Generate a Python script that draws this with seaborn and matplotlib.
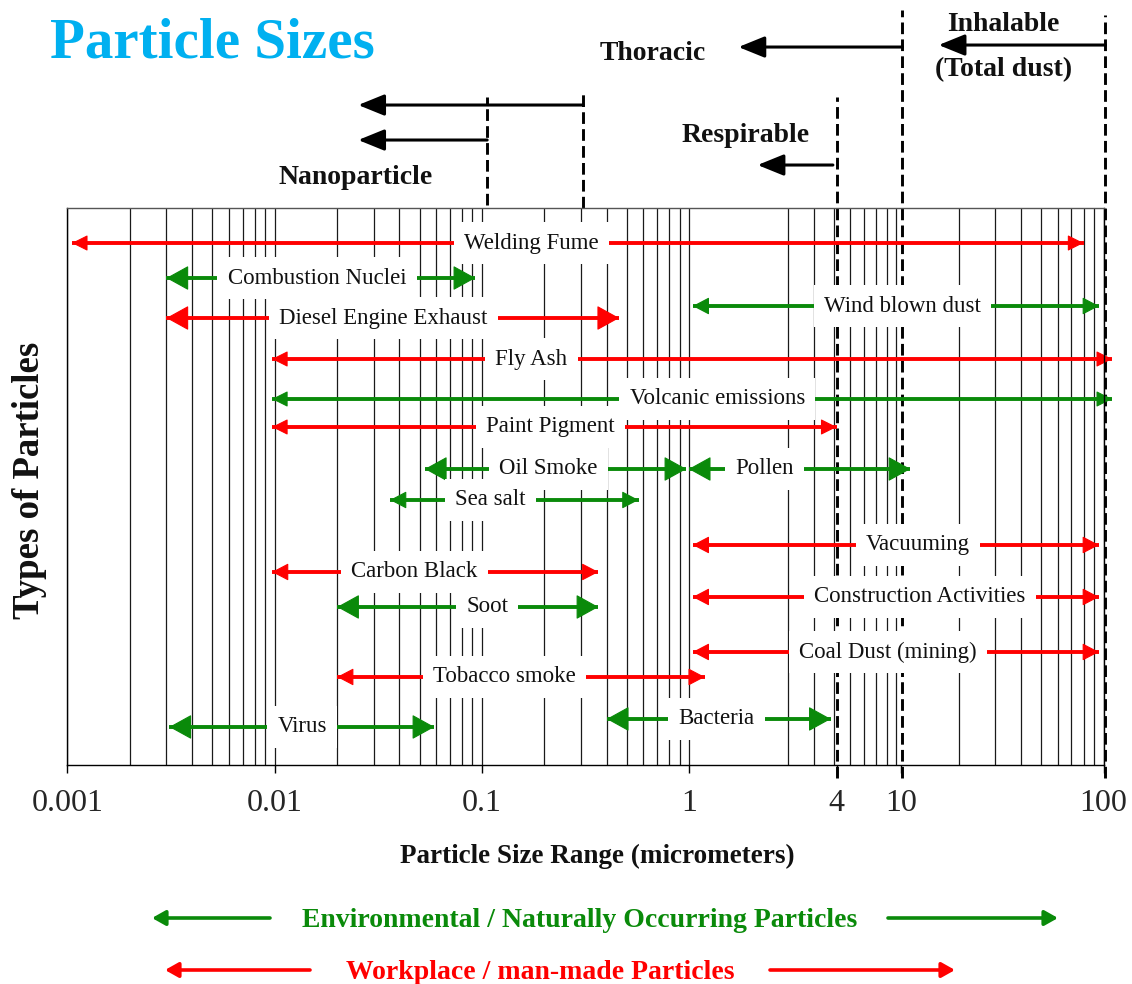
import numpy as np
import pandas as pd
import matplotlib
matplotlib.use("Agg")
import matplotlib.pyplot as plt
from matplotlib.ticker import NullLocator
import seaborn as sns

# ---------------- data ----------------
categories = ["Welding Fume", "Combustion Nuclei", "Diesel Engine Exhaust", "Wind blown dust",
              "Fly Ash", "Volcanic emissions", "Paint Pigment", "Oil Smoke", "Pollen", "Sea salt",
              "Vacuuming", "Carbon Black", "Construction Activities", "Soot", "Coal Dust (mining)",
              "Tobacco smoke", "Virus", "Bacteria"]
size_min = [0.00105, 0.003, 0.003, 1.04, 0.0097, 0.0097, 0.0097, 0.053, 0.995, 0.036,
            1.04, 0.0097, 1.04, 0.02, 1.04, 0.02, 0.0031, 0.4]
size_max = [80, 0.093, 0.46, 95, 110, 110, 5.15, 0.97, 11.7, 0.57,
            95, 0.365, 95, 0.365, 95, 1.19, 0.059, 4.83]
source = ["Workplace", "Environmental", "Workplace", "Environmental", "Workplace",
          "Environmental", "Workplace", "Environmental", "Environmental", "Environmental",
          "Workplace", "Workplace", "Workplace", "Environmental", "Workplace",
          "Workplace", "Environmental", "Environmental"]
lane = [52.2, 48.7, 44.7, 45.9, 40.6, 36.6, 33.8, 29.6, 29.6, 26.5,
        22.0, 19.3, 16.8, 15.8, 11.3, 8.8, 3.8, 4.6]
label_at = [0.173, 0.016, 0.0334, 10.7, 0.173, 1.37, 0.214, 0.21, 2.32, 0.11,
            12.7, 0.0472, 13.0, 0.106, 9.1, 0.1285, 0.0136, 1.36]
head_kind = ["s", "L", "L", "m", "s", "s", "s", "L", "L", "m",
             "m", "m", "m", "L", "m", "m", "L", "L"]

tick_values = [0.001, 0.01, 0.1, 1, 5.15, 10.5, 100]
tick_labels = ["0.001", "0.01", "0.1", "1", "4", "10", "100"]

# deposition fraction cut-offs (dashed lines)
cut_values = [0.308, 0.106, 5.15, 10.7, 102]
cut_top = [67.3, 66.8, 66.8, 75.5, 75.0]
cut_bottom = [55.7, 56.0, -1.3, -1.3, -1.3]

# fraction arrows: (from, to, lane)
frac_from = [0.308, 0.106, 4.94, 10.7, 102]
frac_to = [0.0253, 0.0253, 2.14, 1.73, 16.0]
frac_lane = [66.0, 62.5, 60.0, 71.8, 72.0]

frac_labels = ["Nanoparticle", "Respirable", "Thoracic", "Inhalable", "(Total dust)"]
frac_label_x = [0.0245, 1.875, 0.667, 33.0, 33.0]
frac_label_lane = [58.8, 63.0, 71.2, 74.1, 69.5]

GREEN = "#0a8a0a"
RED = "#ff0000"
palette = {"Environmental": GREEN, "Workplace": RED}

# ---------------- figure ----------------
sns.set_theme(style="white")
plt.rcParams["font.family"] = ["Liberation Serif", "DejaVu Serif"]

fig = plt.figure(figsize=(11.32, 9.84), dpi=100)
ax = fig.add_axes([0.0596, 0.2226, 0.9153, 0.5660])
ax.set_xscale("log")
ax.set_xlim(0.001, 100)
ax.set_ylim(0, 55.7)

# vertical grid lines at 1..9 x decade (the "2" line of 1-10 decade is absent)
grid_values = [m * 10.0 ** k for k in range(-3, 2) for m in range(1, 10)] + [100.0]
grid_values = [g for g in grid_values if abs(g - 2.0) > 1e-9]
for g in grid_values:
    ax.axvline(g, color="#1a1a1a", lw=0.9, zorder=0)

# dashed cut-off lines
for v, y0, y1 in zip(cut_values, cut_bottom, cut_top):
    ax.plot([v, v], [y0, y1], color="black", lw=2.1, ls=(0, (4, 1.8)),
            clip_on=False, zorder=1)

# range shafts with seaborn
rows = []
for c, a, b, s, y in zip(categories, size_min, size_max, source, lane):
    rows.append({"category": c, "size": a, "lane": y, "source": s})
    rows.append({"category": c, "size": b, "lane": y, "source": s})
df = pd.DataFrame(rows)
sns.lineplot(data=df, x="size", y="lane", hue="source", units="category",
             estimator=None, sort=False, palette=palette, lw=2.8, legend=False,
             ax=ax, clip_on=False, solid_capstyle="butt", zorder=2)

heads = {"s": (1.0, 0.5), "m": (1.05, 0.55), "L": (1.45, 0.8)}
for a, b, s, y, hk in zip(size_min, size_max, source, lane, head_kind):
    hl, hw = heads[hk]
    col = palette[s]
    style = f"-|>,head_length={hl},head_width={hw}"
    for x_end, off in ((b, -12), (a, 12)):
        ax.annotate("", xy=(x_end, y), xytext=(off, 0), textcoords="offset points",
                    arrowprops=dict(arrowstyle=style, mutation_scale=10, color=col,
                                    lw=0.8, shrinkA=0, shrinkB=0),
                    annotation_clip=False, zorder=2.5)

# labels with white boxes
for c, x, y in zip(categories, label_at, lane):
    ax.text(x, y, c, ha="center", va="center", fontsize=16.5, color="#111111",
            zorder=3, bbox=dict(boxstyle="square,pad=0.45", fc="white", ec="none"))

# fraction arrows and labels (above the plot area)
for a, b, y in zip(frac_from, frac_to, frac_lane):
    ax.annotate("", xy=(b, y), xytext=(a, y),
                arrowprops=dict(arrowstyle="-|>,head_length=1.6,head_width=0.65",
                                mutation_scale=10, color="black", lw=2.2,
                                shrinkA=0, shrinkB=0),
                annotation_clip=False)
for t, x, y in zip(frac_labels, frac_label_x, frac_label_lane):
    ax.text(x, y, t, ha="center", va="center", fontsize=20, fontweight="bold",
            color="#111111", clip_on=False)

# axes styling
ax.set_xticks(tick_values, tick_labels)
ax.xaxis.set_minor_locator(NullLocator())
ax.set_yticks([])
ax.tick_params(axis="x", direction="out", length=6, width=1, color="black",
               labelsize=23, pad=11, bottom=True)
for sp in ["left", "bottom", "right"]:
    ax.spines[sp].set_color("black")
    ax.spines[sp].set_linewidth(1.0)
ax.spines["top"].set_color("#555555")
ax.spines["top"].set_linewidth(1.0)
ax.set_xlabel("")
ax.set_ylabel("")

# titles
fig.text(50 / 1132, 1 - 44 / 984, "Particle Sizes", ha="left", va="center",
         fontsize=41, fontweight="bold", color="#00b0f0")
fig.text(597 / 1132, 1 - 856 / 984, "Particle Size Range (micrometers)", ha="center",
         va="center", fontsize=19.5, fontweight="bold", color="#111111")
fig.text(30 / 1132, 1 - 480 / 984, "Types of Particles", ha="center", va="center",
         rotation=90, fontsize=26.5, fontweight="bold", color="#111111")

# bottom key
legend_texts = ["Environmental / Naturally Occurring Particles", "Workplace / man-made Particles"]
legend_colors = [GREEN, RED]
legend_y = [1 - 918 / 984, 1 - 970 / 984]
legend_text_x = [580 / 1132, 540 / 1132]
legend_left = [(270 / 1132, 152 / 1132), (310 / 1132, 165 / 1132)]
legend_right = [(888 / 1132, 1058 / 1132), (770 / 1132, 955 / 1132)]
for t, c, y, tx, (l0, l1), (r0, r1) in zip(legend_texts, legend_colors, legend_y,
                                            legend_text_x, legend_left, legend_right):
    fig.text(tx, y - 0.003, t, ha="center", va="center", fontsize=20, fontweight="bold",
             color=c)
    for s0, s1 in ((l0, l1), (r0, r1)):
        ax.annotate("", xy=(s1, y), xytext=(s0, y), xycoords="figure fraction",
                    textcoords="figure fraction",
                    arrowprops=dict(arrowstyle="-|>,head_length=0.8,head_width=0.45",
                                    mutation_scale=10, color=c, lw=2.6,
                                    shrinkA=0, shrinkB=0),
                    annotation_clip=False)

fig.savefig("out.png", dpi=100)
